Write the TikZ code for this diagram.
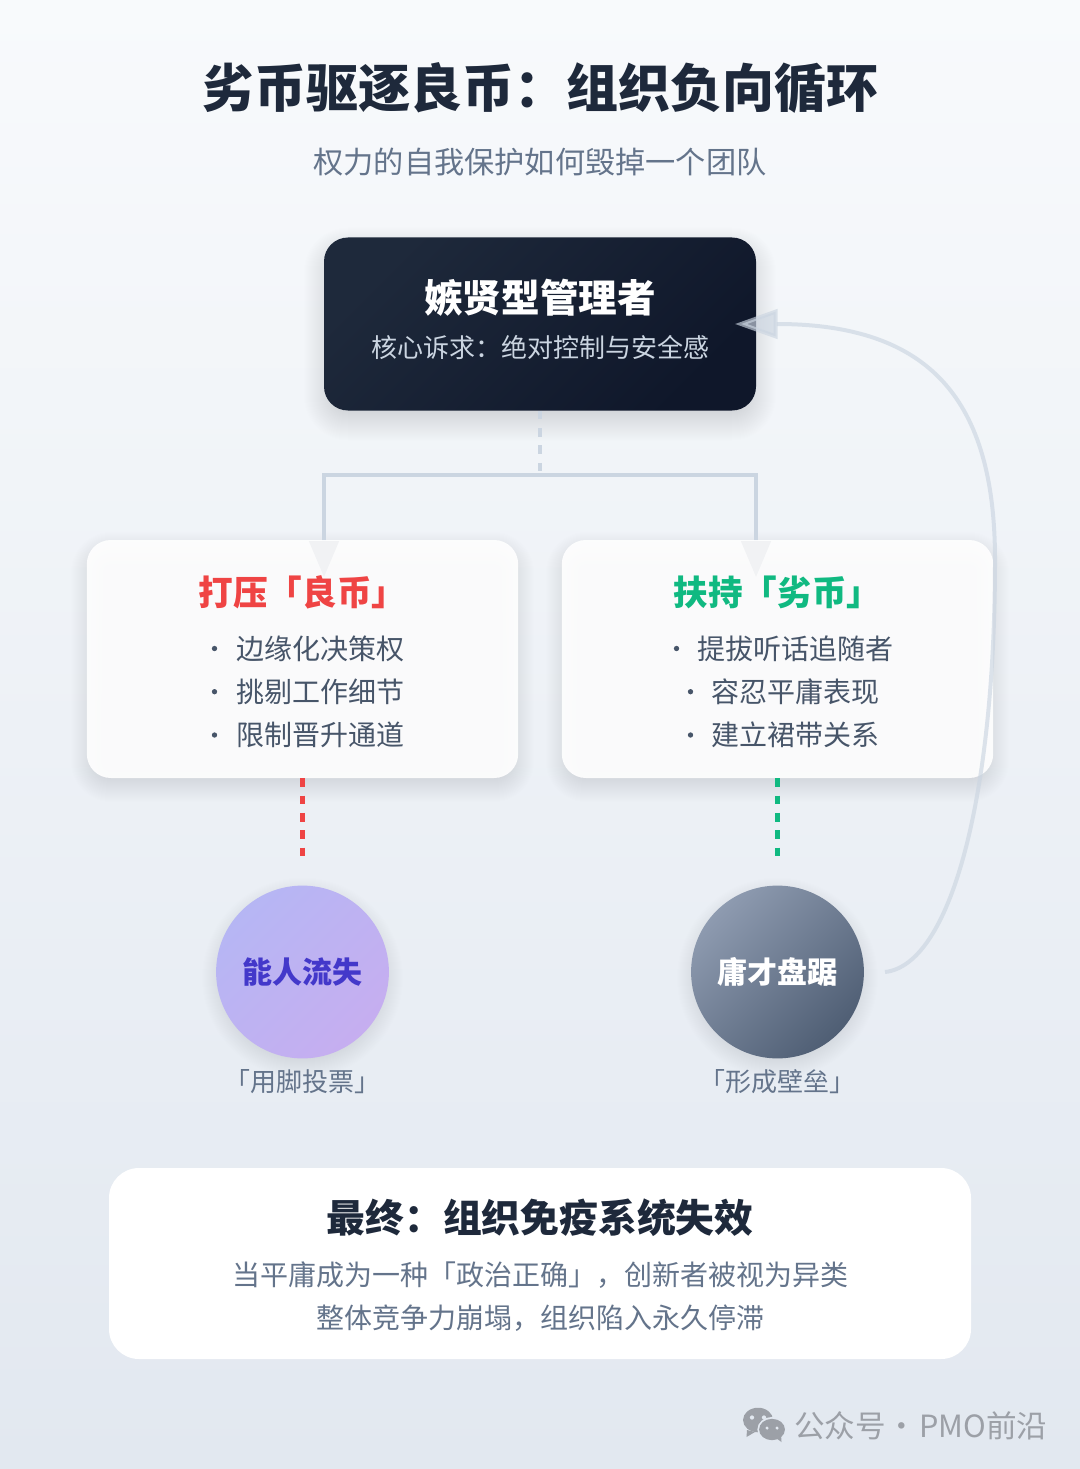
\documentclass[tikz,border=0pt]{standalone}
\usepackage{fontspec}
\setmainfont{Noto Sans CJK SC}
\usetikzlibrary{arrows.meta}
\definecolor{bgtop}{HTML}{F8FAFC}
\definecolor{bgbot}{HTML}{E2E8F0}
\definecolor{ink}{HTML}{1E293B}
\definecolor{inkdark}{HTML}{0F172A}
\definecolor{slatetext}{HTML}{475569}
\definecolor{mutedtext}{HTML}{64748B}
\definecolor{linecol}{HTML}{CBD5E1}
\definecolor{tricol}{HTML}{64748B}
\definecolor{redc}{HTML}{EF4444}
\definecolor{greenc}{HTML}{10B981}
\definecolor{wm}{HTML}{9CA0A7}
\definecolor{viotop}{HTML}{B6B6F4}
\definecolor{viobot}{HTML}{C6AEF0}
\definecolor{viotext}{HTML}{4338CA}
\definecolor{greytop}{HTML}{8E9BB0}
\definecolor{greybot}{HTML}{4F5E74}
\newcommand{\pxfont}[1]{\fontsize{\fpeval{#1*0.75}}{\fpeval{#1*0.9}}\selectfont}
\newcommand{\softrect}[8]{% x1,y1,x2,y2,r,dy,spread,alpha
  \foreach \k in {-#7,...,#7}{%
    \pgfmathsetmacro\rr{max(#5+\k,1)*0.75}%
    \fill[black,fill opacity=#8,rounded corners=\rr pt]
      ({#1-(\k)},{#2-(\k)+#6}) rectangle ({#3+(\k)},{#4+(\k)+#6});}}
\newcommand{\softdisc}[6]{% cx,cy,r,dy,spread,alpha
  \foreach \k in {-#5,...,#5}{%
    \fill[black,fill opacity=#6] (#1,{#2+#4}) circle [radius={(#3+(\k))*0.75pt}];}}
\tikzset{
  txt/.style={inner sep=0pt,outer sep=0pt,anchor=base},
  itemtxt/.style={inner sep=0pt,anchor=base west,text=slatetext,font=\pxfont{28}},
  bul/.style={circle,fill=slatetext,inner sep=0pt,minimum size=4pt},
  dashline/.style={line width=3.3pt,dash pattern=on 6.5pt off 6.5pt},
  bracket/.style={draw=linecol,line width=3pt,-{Triangle[length=27pt,width=22pt,fill=tricol,color=tricol]}},
  card/.style={rounded corners=18pt,fill=white,fill opacity=.91,minimum width=323.5pt,minimum height=178.5pt,inner sep=0pt},
  feedback/.style={draw=linecol,opacity=.65,line width=3pt,-{Triangle[length=32pt,width=22pt,fill=linecol]}},
  disc/.style={circle,minimum size=129.6pt,inner sep=0pt},
}
\begin{document}
\begin{tikzpicture}[x=0.75pt,y=-0.75pt]
\useasboundingbox (0,0) rectangle (1080,1469);
\fill[top color=bgtop,bottom color=bgbot] (0,0) rectangle (1080,1469);

% title
\node[txt,text=ink,font=\pxfont{52}\bfseries] (title) at (540,108) {劣币驱逐良币：组织负向循环};
\node[txt,text=mutedtext,font=\pxfont{30.2}] (subtitle) at (540,173.5) {权力的自我保护如何毁掉一个团队};

% shadows
\softrect{324}{237.5}{756}{410.5}{24}{10}{20}{.004}
\softrect{87}{540}{518}{778}{24}{8}{16}{.003}
\softrect{562}{540}{993}{778}{24}{8}{16}{.003}
\softdisc{302.5}{972}{86.4}{6}{14}{.003}
\softdisc{777.5}{972}{86.4}{6}{14}{.004}

% named anchors for connectors
\coordinate (junction) at (540,475.3);
\coordinate (tipL) at (324,577);
\coordinate (tipR) at (756,577);
\coordinate (fbstart) at (885,972);
\coordinate (fbmid) at (995,560);
\coordinate (fbtip) at (735,324);

% connectors under the cards
\draw[bracket] (junction) -| (tipL);
\draw[bracket] (junction) -| (tipR);

% cards
\node[card] (cardL) at (302.5,659) {};
\node[card] (cardR) at (777.5,659) {};

% manager
\node[rounded corners=18pt,minimum width=324pt,minimum height=129.75pt,inner sep=0pt,
      top color=ink,bottom color=inkdark,shading angle=45] (manager) at (540,324) {};
\node[txt,text=white,font=\pxfont{38.6}\bfseries] (managerT) at (540,312.6) {嫉贤型管理者};
\node[txt,text=linecol,font=\pxfont{26}] (managerS) at (540,357) {核心诉求：绝对控制与安全感};

% feedback curve
\draw[feedback] (fbstart) .. controls (950,965) and (995,800) .. (fbmid)
   .. controls (995,400) and (930,324) .. (fbtip);

% dashed connectors
\draw[dashline,linecol] (manager.south) -- (junction);

% card text
\node[txt,text=redc,font=\pxfont{34.6}\bfseries] (lT) at (302.5,605) {打压「良币」};
\node[bul] (lb1) at (214.5,648.5) {};
\node[itemtxt] (l1) at (236,659.6) {边缘化决策权};
\node[bul] (lb2) at (214.5,691.7) {};
\node[itemtxt] (l2) at (236,702.6) {挑剔工作细节};
\node[bul] (lb3) at (214.5,735) {};
\node[itemtxt] (l3) at (236,745.6) {限制晋升通道};

\node[txt,text=greenc,font=\pxfont{34.6}\bfseries] (rT) at (777.5,605) {扶持「劣币」};
\node[bul] (rb1) at (676.5,648.5) {};
\node[itemtxt] (r1) at (697,659.6) {提拔听话追随者};
\node[bul] (rb2) at (690.5,691.7) {};
\node[itemtxt] (r2) at (711,702.6) {容忍平庸表现};
\node[bul] (rb3) at (690.5,735) {};
\node[itemtxt] (r3) at (711,745.6) {建立裙带关系};

% circles
\node[disc,top color=viotop,bottom color=viobot,shading angle=45] (able) at (302.5,972) {};
\node[disc,top color=greytop,bottom color=greybot,shading angle=45] (medi) at (777.5,972) {};
\node[txt,text=viotext,font=\pxfont{30}\bfseries] (ableT) at (302.5,983.4) {能人流失};
\node[txt,text=white,font=\pxfont{30}\bfseries] (mediT) at (777.5,983.4) {庸才盘踞};
\node[txt,text=mutedtext,font=\pxfont{26}] (ableC) at (302.5,1091.5) {「用脚投票」};
\node[txt,text=mutedtext,font=\pxfont{26}] (mediC) at (777.5,1091.5) {「形成壁垒」};

\coordinate (redEnd) at (302.5,856);
\coordinate (greenEnd) at (777.5,856);
\draw[dashline,redc] (cardL.south) -- (redEnd);
\draw[dashline,greenc] (cardR.south) -- (greenEnd);

% conclusion
\node[rounded corners=22.5pt,fill=white,minimum width=646.5pt,minimum height=143.25pt,inner sep=0pt] (final) at (540,1263.5) {};
\node[txt,text=ink,font=\pxfont{38.8}\bfseries] (finalT) at (540,1232) {最终：组织免疫系统失效};
\node[txt,text=mutedtext,font=\pxfont{28}] (final1) at (540,1285.6) {当平庸成为一种「政治正确」，创新者被视为异类};
\node[txt,text=mutedtext,font=\pxfont{28}] (final2) at (540,1328.6) {整体竞争力崩塌，组织陷入永久停滞};

% watermark
\fill[wm] (758,1420) ellipse [x radius=11.25pt,y radius=9.2pt];
\fill[wm] (747,1430) -- (746.5,1437) -- (755,1432) -- cycle;
\fill[bgbot] (772,1429.5) ellipse [x radius=11pt,y radius=9.3pt];
\fill[wm] (772,1429.5) ellipse [x radius=9.7pt,y radius=8pt];
\fill[wm] (776,1438) -- (781.5,1442) -- (781,1434) -- cycle;
\fill[bgbot] (752,1417.5) circle [radius=1.6pt] (764,1417.5) circle [radius=1.6pt]
             (767,1428) circle [radius=1.3pt] (777,1428) circle [radius=1.3pt];
\node[inner sep=0pt,anchor=base west,text=wm,font=\pxfont{30.6}] (wmtext) at (794,1437) {公众号·\hspace{2pt}PMO前沿};
\end{tikzpicture}
\end{document}
